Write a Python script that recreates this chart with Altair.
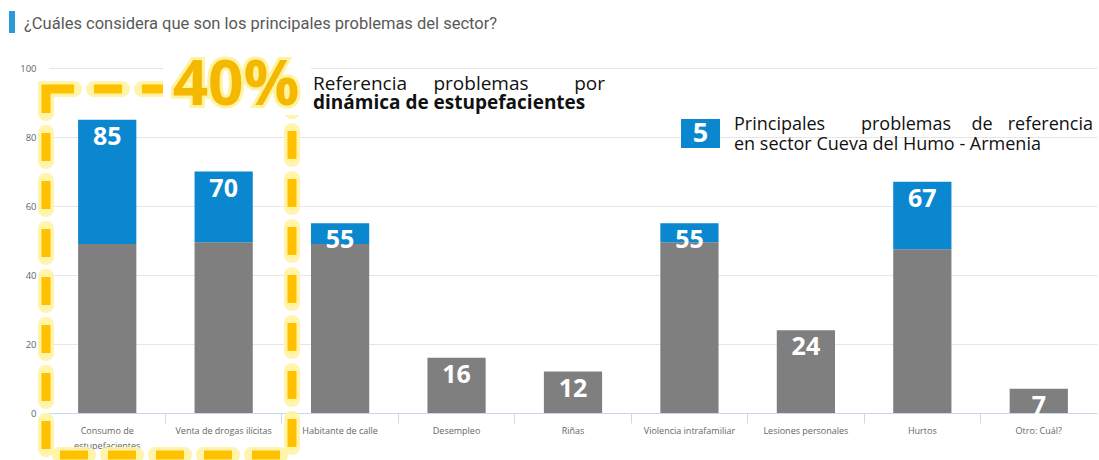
import altair as alt
import pandas as pd

# ---------------- data ----------------
categories = [
    "Consumo de|estupefacientes",
    "Venta de drogas ilícitas",
    "Habitante de calle",
    "Desempleo",
    "Riñas",
    "Violencia intrafamiliar",
    "Lesiones personales",
    "Hurtos",
    "Otro: Cuál?",
]
totals = [85, 70, 55, 16, 12, 55, 24, 67, 7]
gray_part = [49, 49.5, 49, 16, 12, 49.5, 24, 47.5, 7]
y_ticks = [0, 20, 40, 60, 80, 100]

title_text = "¿Cuáles considera que son los principales problemas del sector?"
big_pct = "40%"
note1_words = ["Referencia", "problemas", "por"]
note1_bold = "dinámica de estupefacientes"
note2_words = ["Principales", "problemas", "de", "referencia"]
note2_line2 = "en sector Cueva del Humo - Armenia"
badge = "5"

# ---------------- style ----------------
BLUE = "#0b87cf"
GRAY = "#7f7f7f"
YELLOW = "#f5b800"
L, T = 49, 68      # plot origin on the page
W, H = 1048, 345   # plot area

df = pd.DataFrame({"cat": categories, "total": totals, "gray": gray_part})


def at(x, y):
    return dict(x=alt.value(x - L), y=alt.value(y - T))


def label(text, x, y, **kw):
    return alt.Chart(pd.DataFrame({"t": [text]})).mark_text(**kw).encode(text="t:N", **at(x, y))


def box(x1, y1, x2, y2, **kw):
    return alt.Chart(pd.DataFrame({"k": [0]})).mark_rect(**kw).encode(
        x=alt.value(x1 - L), x2=alt.value(x2 - L), y=alt.value(y1 - T), y2=alt.value(y2 - T)
    )


x_axis = alt.Axis(title=None)
y_axis = alt.Axis(title=None, values=y_ticks)
x_enc = alt.X("cat:N", sort=categories, scale=alt.Scale(paddingInner=0, paddingOuter=0), axis=x_axis)
y_scale = alt.Scale(domain=[0, 100])

base = alt.Chart(df)
gray_bars = base.mark_bar(color=GRAY, width=alt.RelativeBandSize(0.5)).encode(
    x=x_enc, y=alt.Y("gray:Q", scale=y_scale, axis=y_axis)
)
blue_bars = base.transform_filter("datum.total > datum.gray").mark_bar(
    color=BLUE, width=alt.RelativeBandSize(0.5)
).encode(x=x_enc, y=alt.Y("gray:Q", scale=y_scale, axis=y_axis), y2="total:Q")
values = base.mark_text(
    color="white", font="Open Sans", fontWeight="bold", fontSize=25, baseline="middle", dy=17
).encode(x=x_enc, y=alt.Y("total:Q", scale=y_scale, axis=y_axis), text=alt.Text("total:Q", format="d"))

# title
title_bar = box(9, 11, 15, 33, color="#2b9ad6")
title = label(title_text, 24, 29, font="Roboto", fontSize=16.5, color="#595959", align="left", baseline="alphabetic")

# dashed yellow frame
frame_glow = box(46, 89, 292, 455, fillOpacity=0, stroke="#fff3a0", strokeWidth=16,
                 strokeDash=[28, 20], strokeCap="round", strokeOpacity=0.9)
frame = box(46, 89, 292, 455, fillOpacity=0, stroke="#ffc000", strokeWidth=9, strokeDash=[28, 20])
cover = box(163, 56, 311, 115, color="white")
pct_glow = label(big_pct, 236, 105, font="Open Sans", fontWeight="bold", fontSize=62, color="#fff3a0",
                 stroke="#fff3a0", strokeWidth=6, align="center", baseline="alphabetic")
pct = label(big_pct, 236, 105, font="Open Sans", fontWeight="bold", fontSize=62, color=YELLOW,
            align="center", baseline="alphabetic")

# note 1 (justified first line)
note_style = dict(font="Open Sans", fontSize=19, color="#111111", baseline="alphabetic")
n1 = [
    label(note1_words[0], 313, 90, align="left", **note_style),
    label(note1_words[1], 481, 90, align="center", **note_style),
    label(note1_words[2], 605, 90, align="right", **note_style),
]
n1b = label(note1_bold, 313, 109, font="Open Sans", fontSize=19, fontWeight="bold", color="#111111",
            align="left", baseline="alphabetic")

# note 2 (justified first line)
badge_box = box(681, 119, 720, 148, color=BLUE)
badge_txt = label(badge, 700.5, 134, font="Open Sans", fontWeight="bold", fontSize=27, color="white",
                  align="center", baseline="middle")
n2_style = dict(font="Open Sans", fontSize=18, color="#111111", baseline="alphabetic")
n2 = [
    label(note2_words[0], 734, 130, align="left", **n2_style),
    label(note2_words[1], 906, 130, align="center", **n2_style),
    label(note2_words[2], 982, 130, align="center", **n2_style),
    label(note2_words[3], 1093, 130, align="right", **n2_style),
]
n2b = label(note2_line2, 734, 150, **n2_style, align="left")

chart = alt.layer(
    gray_bars, blue_bars, values,
    title_bar, title,
    frame_glow, frame, cover, pct_glow, pct,
    *n1, n1b,
    badge_box, badge_txt, *n2, n2b,
).properties(
    width=W, height=H,
    padding={"left": L, "top": T, "right": 1099 - L - W, "bottom": 460 - T - H},
    autosize=alt.AutoSizeParams(type="none"),
).configure_view(stroke=None).configure_axisX(
    labelAngle=0, bandPosition=0,
    tickSize=10, tickColor="#ccd6eb", domainColor="#ccd6eb",
    labelExpr="split(datum.label, '|')", labelFont="Open Sans", labelFontSize=9,
    labelColor="#666666", labelPadding=3, labelLineHeight=15, labelBaseline="top",
    grid=False, labelLimit=200,
).configure_axisY(
    domain=False, ticks=False, labelPadding=13, grid=True,
    gridColor="#e6e6e6", labelFont="Open Sans", labelFontSize=9.5, labelColor="#666666",
)

chart.save("out.html", embed_options={"renderer": "svg", "actions": False})
